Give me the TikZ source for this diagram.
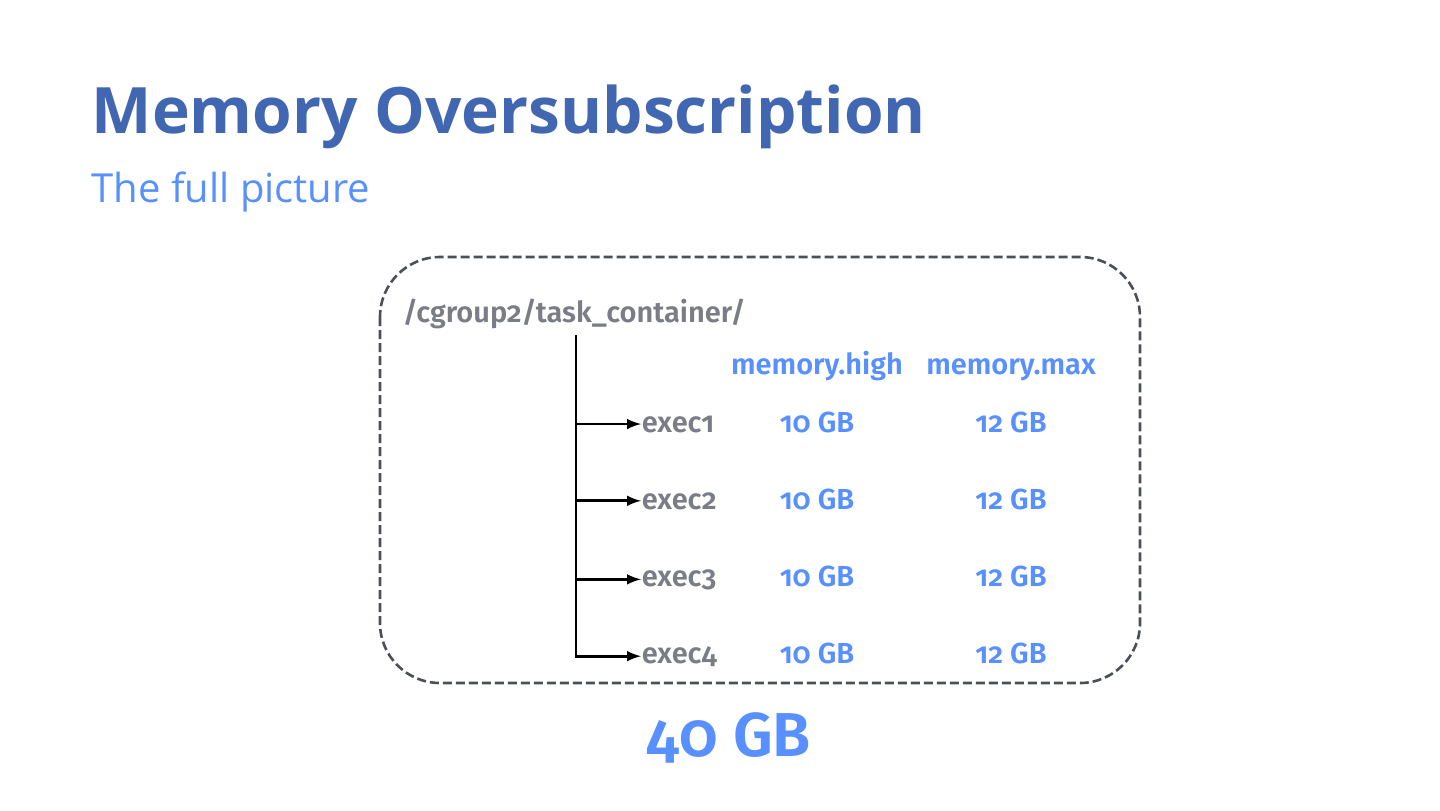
\documentclass[tikz,border=0pt]{standalone}
\usepackage{fontspec}
\setmainfont{Fira Sans}
\newfontfamily\bodyfont{Fira Sans SemiBold}[Numbers=OldStyle]
\newfontfamily\bigfont{Fira Sans SemiBold}[Numbers=OldStyle]
\newfontfamily\subfont{Open Sans}
\usetikzlibrary{arrows}

\definecolor{fbblue}{HTML}{4267B2}
\definecolor{lightblue}{HTML}{5890FF}
\definecolor{textgray}{HTML}{7A7D85}
\definecolor{boxgray}{HTML}{4B4F56}

\tikzset{
    path/.style={font=\bodyfont\fontsize{14.5}{17}\selectfont, text=textgray, inner sep=0pt},
    limit/.style={font=\bodyfont\fontsize{14.5}{17}\selectfont, text=lightblue, inner sep=0pt}
}

\begin{document}
\begin{tikzpicture}[x=0.5pt, y=-0.5pt, thick]
    \useasboundingbox (0,0) rectangle (1440,810);
    % headings
    \draw (91,133)  node [anchor=base west, inner sep=0pt, text=fbblue, font=\subfont\bfseries\fontsize{32}{38}\selectfont] (title) {Memory Oversubscription}
        (91,202)  node [anchor=base west, inner sep=0pt, text=lightblue, font=\subfont\fontsize{20}{24}\selectfont] (subtitle) {The full picture};

    % container
    \draw [boxgray, line width=1.3pt, dash pattern=on 4.5pt off 2pt, rounded corners=30pt] (380,257) rectangle (1140,683);
    \draw (402,322)  node [path, anchor=base west] (root) {/cgroup2/task\_container/};

    % column labels
    \draw (817,374)  node [limit, anchor=base] (high) {memory.high}
        (1011,374)  node [limit, anchor=base] (max) {memory.max};

    % children
    \draw (641,432)  node [path, anchor=base west] (exec1) {exec1}
        (641,509)  node [path, anchor=base west] (exec2) {exec2}
        (641,586)  node [path, anchor=base west] (exec3) {exec3}
        (641,663)  node [path, anchor=base west] (exec4) {exec4};

    % limits
    \draw (817,432)  node [limit, anchor=base] (high1) {10 GB}
        (817,509)  node [limit, anchor=base] (high2) {10 GB}
        (817,586)  node [limit, anchor=base] (high3) {10 GB}
        (817,663)  node [limit, anchor=base] (high4) {10 GB}
        (1011,432)  node [limit, anchor=base] (max1) {12 GB}
        (1011,509)  node [limit, anchor=base] (max2) {12 GB}
        (1011,586)  node [limit, anchor=base] (max3) {12 GB}
        (1011,663)  node [limit, anchor=base] (max4) {12 GB};

    % tree lines
    \coordinate (trunk) at (576,335);
    \draw [->, >=latex, line width=1.4pt] (trunk) |- (exec4.west);
    \draw [->, >=latex, line width=1.4pt] (trunk |- exec1.west) -- (exec1.west);
    \draw [->, >=latex, line width=1.4pt] (trunk |- exec2.west) -- (exec2.west);
    \draw [->, >=latex, line width=1.4pt] (trunk |- exec3.west) -- (exec3.west);

    % total
    \draw (729,756)  node [anchor=base, inner sep=0pt, text=lightblue, font=\bigfont\fontsize{31}{36}\selectfont] (total) {40 GB};
\end{tikzpicture}
\end{document}
